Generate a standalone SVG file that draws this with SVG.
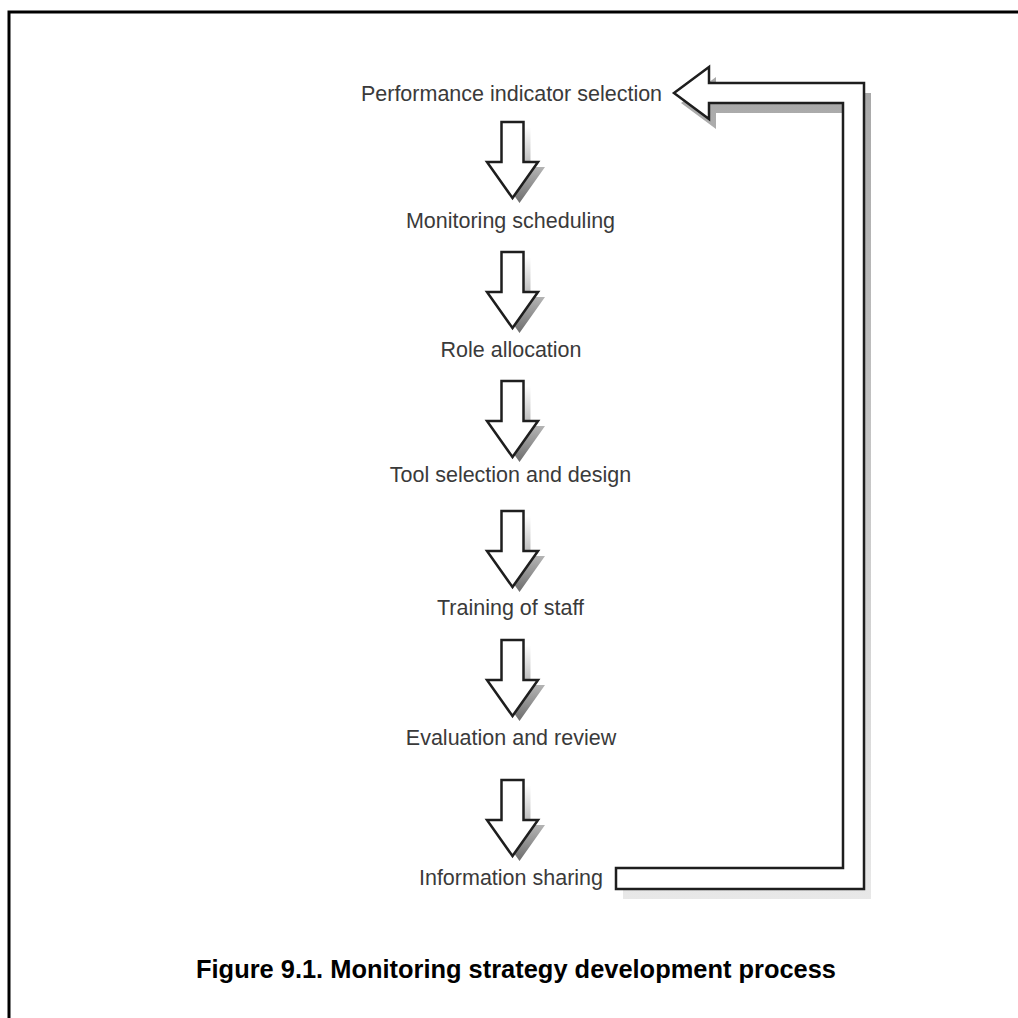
<svg xmlns="http://www.w3.org/2000/svg" width="1018" height="1018" viewBox="0 0 1018 1018">
  <style>
    .lbl { font-family: "Liberation Sans", Arial, sans-serif; font-size: 21.5px; fill: #3a3a3a; text-anchor: middle; }
    .cap { font-family: "Liberation Sans", Arial, sans-serif; font-size: 26px; font-weight: bold; fill: #000; text-anchor: middle; }
    .arrow { fill: #fff; stroke: #1e1e1e; stroke-width: 2.5; stroke-linejoin: miter; }
    .dshadow { fill: url(#gDown); stroke: none; }
    .rshadow { fill: url(#gRet); stroke: none; }
    .frame { stroke: #000; stroke-width: 3; fill: none; }
  </style>
  <defs>
    <linearGradient id="gDown" x1="0" y1="0" x2="0" y2="1">
      <stop offset="0" stop-color="#ffffff"/>
      <stop offset="0.5" stop-color="#b8b8b8"/>
      <stop offset="1" stop-color="#6e6e6e"/>
    </linearGradient>
    <linearGradient id="gRet" x1="0" y1="0" x2="0" y2="1">
      <stop offset="0" stop-color="#a8a8a8"/>
      <stop offset="1" stop-color="#e8e8e8"/>
    </linearGradient>
    <path id="down" d="M -11 0 L 11 0 L 11 40 L 25.5 40 L 0 76 L -25.5 40 L -11 40 Z"/>
    <path id="ret" d="M 674 93 L 709 67 L 709 83 L 864 83 L 864 889 L 616 889 L 616 868 L 843 868 L 843 103 L 709 103 L 709 119 Z"/>
  </defs>

  <rect x="0" y="0" width="1018" height="1018" fill="#fff"/>
  <g id="frame">
    <path class="frame" d="M 9 1018 L 9 12 L 1018 12"/>
  </g>

  <g id="connectors">
    <use href="#ret" class="rshadow" transform="translate(7,10)"/>
    <use href="#ret" class="arrow"/>
    <g transform="translate(512.5,122)"><use href="#down" class="dshadow" transform="translate(7,5)"/><use href="#down" class="arrow"/></g>
    <g transform="translate(512.5,252)"><use href="#down" class="dshadow" transform="translate(7,5)"/><use href="#down" class="arrow"/></g>
    <g transform="translate(512.5,381)"><use href="#down" class="dshadow" transform="translate(7,5)"/><use href="#down" class="arrow"/></g>
    <g transform="translate(512.5,511)"><use href="#down" class="dshadow" transform="translate(7,5)"/><use href="#down" class="arrow"/></g>
    <g transform="translate(512.5,640)"><use href="#down" class="dshadow" transform="translate(7,5)"/><use href="#down" class="arrow"/></g>
    <g transform="translate(512.5,780)"><use href="#down" class="dshadow" transform="translate(7,5)"/><use href="#down" class="arrow"/></g>
  </g>

  <g id="n1"><text class="lbl" x="511.5" y="101">Performance indicator selection</text></g>
  <g id="n2"><text class="lbl" x="510.5" y="228">Monitoring scheduling</text></g>
  <g id="n3"><text class="lbl" x="511" y="357">Role allocation</text></g>
  <g id="n4"><text class="lbl" x="510.5" y="482">Tool selection and design</text></g>
  <g id="n5"><text class="lbl" x="510.5" y="615">Training of staff</text></g>
  <g id="n6"><text class="lbl" x="511" y="745">Evaluation and review</text></g>
  <g id="n7"><text class="lbl" x="511" y="885">Information sharing</text></g>

  <g id="caption"><text class="cap" x="516" y="978" textLength="640" lengthAdjust="spacingAndGlyphs">Figure 9.1. Monitoring strategy development process</text></g>
</svg>
